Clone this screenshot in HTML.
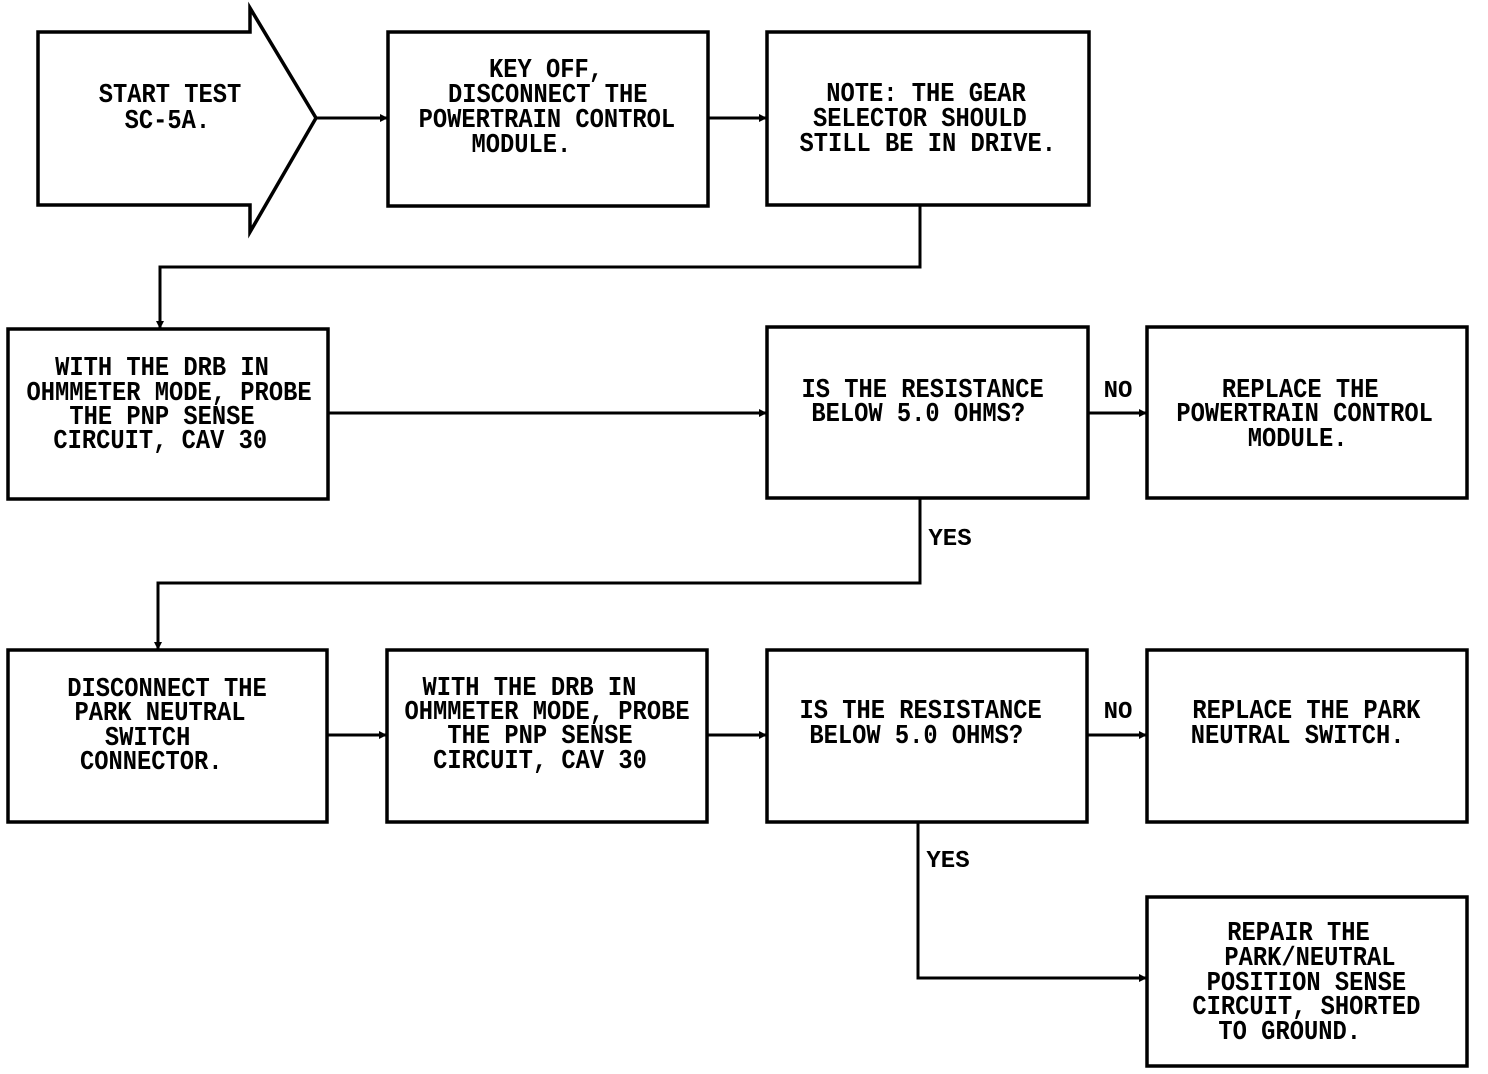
<!DOCTYPE html>
<html><head><meta charset="utf-8"><style>
html,body{margin:0;padding:0;background:#fff;}
svg{display:block;}
text{font-family:"Liberation Mono",monospace;font-weight:bold;font-size:27px;fill:#000;text-anchor:middle;}
</style></head><body>
<svg width="1488" height="1074" viewBox="0 0 1488 1074" xmlns="http://www.w3.org/2000/svg">
<g fill="none" stroke="#000" stroke-width="3.5">
<polygon points="38,32 250,32 250,8 316,118 250,232 250,205 38,205"/>
<rect x="388" y="32" width="320" height="174"/>
<rect x="767" y="32" width="322" height="173"/>
<rect x="8" y="329" width="320" height="170"/>
<rect x="767" y="327" width="321" height="171"/>
<rect x="1147" y="327" width="320" height="171"/>
<rect x="8" y="650" width="319" height="172"/>
<rect x="387" y="650" width="320" height="172"/>
<rect x="767" y="650" width="320" height="172"/>
<rect x="1147" y="650" width="320" height="172"/>
<rect x="1147" y="897" width="320" height="169"/>
<g stroke-width="3">
<polyline points="316,118 388,118"/>
<polyline points="708,118 767,118"/>
<polyline points="920,205 920,267 160,267 160,329"/>
<polyline points="328,413 767,413"/>
<polyline points="1088,413 1147,413"/>
<polyline points="920,498 920,583 158,583 158,650"/>
<polyline points="327,735 387,735"/>
<polyline points="707,735 767,735"/>
<polyline points="1087,735 1147,735"/>
<polyline points="918,822 918,978 1147,978"/>
</g>
</g>
<g fill="#000">
<polygon points="388,118 380,114 380,122"/>
<polygon points="767,118 759,114 759,122"/>
<polygon points="160,329 156,321 164,321"/>
<polygon points="767,413 759,409 759,417"/>
<polygon points="1147,413 1139,409 1139,417"/>
<polygon points="158,650 154,642 162,642"/>
<polygon points="387,735 379,731 379,739"/>
<polygon points="767,735 759,731 759,739"/>
<polygon points="1147,735 1139,731 1139,739"/>
<polygon points="1147,978 1139,974 1139,982"/>
</g>
<g transform="translate(170,0) scale(0.88,1)"><text x="0" y="102">START TEST</text><text x="-3" y="128">SC-5A.</text></g>
<g transform="translate(546,0) scale(0.88,1)"><text x="0" y="77">KEY OFF,</text><text x="2" y="102">DISCONNECT THE</text><text x="1" y="127">POWERTRAIN CONTROL</text><text x="-28" y="152">MODULE.</text></g>
<g transform="translate(926,0) scale(0.88,1)"><text x="0" y="101">NOTE: THE GEAR</text><text x="-7" y="126">SELECTOR SHOULD</text><text x="2" y="151">STILL BE IN DRIVE.</text></g>
<g transform="translate(162,0) scale(0.88,1)"><text x="0" y="375">WITH THE DRB IN</text><text x="8" y="400">OHMMETER MODE, PROBE</text><text x="0" y="424">THE PNP SENSE</text><text x="-2" y="448">CIRCUIT, CAV 30</text></g>
<g transform="translate(920,0) scale(0.88,1)"><text x="3" y="397">IS THE RESISTANCE</text><text x="-2" y="421">BELOW 5.0 OHMS?</text></g>
<g transform="translate(1302,0) scale(0.88,1)"><text x="-2" y="397">REPLACE THE</text><text x="3" y="421">POWERTRAIN CONTROL</text><text x="-5" y="446">MODULE.</text></g>
<g transform="translate(160,0) scale(0.88,1)"><text x="8" y="696">DISCONNECT THE</text><text x="0" y="720">PARK NEUTRAL</text><text x="-14" y="745">SWITCH</text><text x="-10" y="769">CONNECTOR.</text></g>
<g transform="translate(540,0) scale(0.88,1)"><text x="-12" y="695">WITH THE DRB IN</text><text x="8" y="719">OHMMETER MODE, PROBE</text><text x="0" y="743">THE PNP SENSE</text><text x="0" y="768">CIRCUIT, CAV 30</text></g>
<g transform="translate(918,0) scale(0.88,1)"><text x="3" y="718">IS THE RESISTANCE</text><text x="-2" y="743">BELOW 5.0 OHMS?</text></g>
<g transform="translate(1302,0) scale(0.88,1)"><text x="5" y="718">REPLACE THE PARK</text><text x="-5" y="743">NEUTRAL SWITCH.</text></g>
<g transform="translate(1302,0) scale(0.88,1)"><text x="-4" y="940">REPAIR THE</text><text x="9" y="965">PARK/NEUTRAL</text><text x="5" y="990">POSITION SENSE</text><text x="5" y="1014">CIRCUIT, SHORTED</text><text x="-14" y="1039">TO GROUND.</text></g>
<g transform="translate(0,0)">
<text x="1118" y="397" style="font-size:24px">NO</text>
<text x="1118" y="718" style="font-size:24px">NO</text>
<text x="950" y="545" style="font-size:24px">YES</text>
<text x="948" y="867" style="font-size:24px">YES</text>
</g>
</svg>
</body></html>
